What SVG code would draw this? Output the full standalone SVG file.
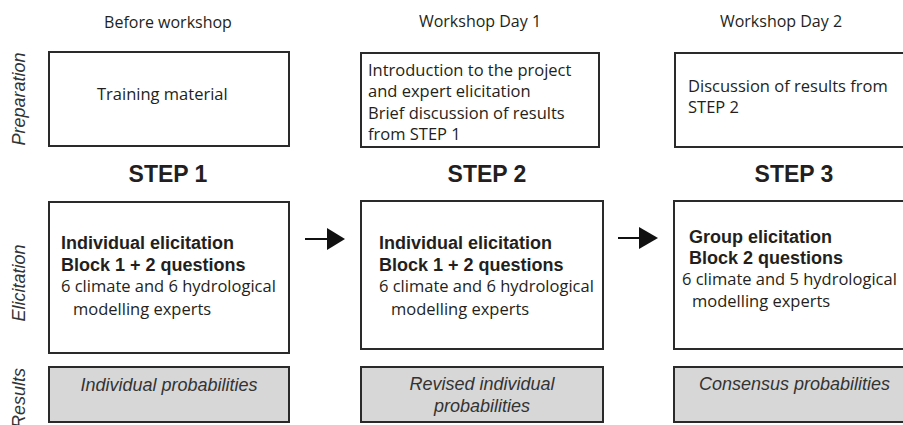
<svg xmlns="http://www.w3.org/2000/svg" width="903" height="425" viewBox="0 0 903 425">
<style>
.box{fill:#fff;stroke:#2a2a2a;stroke-width:2}
.res{fill:#d7d7d7;stroke:#2a2a2a;stroke-width:2}
.reg{font-family:"Open Sans","Noto Sans",sans-serif;font-size:16.5px;fill:#231f20}
.hdr{font-family:"Open Sans","Noto Sans",sans-serif;font-size:16px;fill:#231f20}
.step{font-family:"Liberation Sans",Arial,sans-serif;font-size:23px;font-weight:bold;fill:#231f20;text-anchor:middle}
.bold{font-family:"Liberation Sans",Arial,sans-serif;font-size:18px;font-weight:bold;fill:#231f20}
.it{font-family:"Liberation Sans",Arial,sans-serif;font-size:18px;font-style:italic;fill:#333}
.side{font-family:"Liberation Sans",Arial,sans-serif;font-size:18px;font-style:italic;fill:#333;text-anchor:middle}
.conn{stroke:#111;stroke-width:2;fill:none}
</style>
<g id="headers">
<text class="hdr" x="168" y="28" text-anchor="middle">Before workshop</text>
<text class="hdr" x="480" y="27" text-anchor="middle">Workshop Day 1</text>
<text class="hdr" x="781" y="27" text-anchor="middle">Workshop Day 2</text>
</g>
<g id="row-labels">
<text class="side" transform="translate(25,99) rotate(-90)">Preparation</text>
<text class="side" transform="translate(25,283) rotate(-90)">Elicitation</text>
<text class="side" transform="translate(25,368) rotate(-90)" text-anchor="end" style="text-anchor:end">Results</text>
</g>
<g id="prep1">
<rect class="box" x="49" y="52" width="240" height="94"/>
<text class="reg" x="97" y="100">Training material</text>
</g>
<g id="prep2">
<rect class="box" x="361" y="53" width="238" height="94"/>
<text class="reg" x="368" y="76">Introduction to the project</text>
<text class="reg" x="368" y="97">and expert elicitation</text>
<text class="reg" x="368" y="119">Brief discussion of results</text>
<text class="reg" x="368" y="140">from STEP 1</text>
</g>
<g id="prep3">
<rect class="box" x="675" y="53" width="240" height="94"/>
<text class="reg" x="688" y="92">Discussion of results from</text>
<text class="reg" x="688" y="113">STEP 2</text>
</g>
<g id="steps">
<text class="step" x="168" y="182">STEP 1</text>
<text class="step" x="487" y="182">STEP 2</text>
<text class="step" x="794" y="182">STEP 3</text>
</g>
<g id="elic1">
<rect class="box" x="49" y="202" width="240" height="151"/>
<text class="bold" x="61" y="249">Individual elicitation</text>
<text class="bold" x="61" y="271">Block 1 + 2 questions</text>
<text class="reg" x="61" y="292">6 climate and 6 hydrological</text>
<text class="reg" x="73" y="315">modelling experts</text>
</g>
<g id="elic2">
<rect class="box" x="361" y="201" width="242" height="148"/>
<text class="bold" x="379" y="249">Individual elicitation</text>
<text class="bold" x="379" y="271">Block 1 + 2 questions</text>
<text class="reg" x="379" y="292">6 climate and 6 hydrological</text>
<text class="reg" x="391" y="315">modelling experts</text>
</g>
<g id="elic3">
<rect class="box" x="674" y="201" width="242" height="148"/>
<text class="bold" x="689" y="243">Group elicitation</text>
<text class="bold" x="689" y="264">Block 2 questions</text>
<text class="reg" x="682" y="285">6 climate and 5 hydrological</text>
<text class="reg" x="692" y="307">modelling experts</text>
</g>
<g id="res1">
<rect class="res" x="49" y="367" width="240" height="55"/>
<text class="it" x="169" y="391" text-anchor="middle">Individual probabilities</text>
</g>
<g id="res2">
<rect class="res" x="361" y="367" width="242" height="55"/>
<text class="it" x="482" y="390" text-anchor="middle">Revised individual</text>
<text class="it" x="482" y="412" text-anchor="middle">probabilities</text>
</g>
<g id="res3">
<rect class="res" x="674" y="367" width="242" height="55"/>
<text class="it" x="794.5" y="390" text-anchor="middle">Consensus probabilities</text>
</g>
<g id="connectors">
<line class="conn" x1="305" y1="239" x2="329" y2="239"/>
<polygon points="327,228 345,239 327,250" fill="#111"/>
<line class="conn" x1="618" y1="238" x2="641" y2="238"/>
<polygon points="639,227 658,238 639,249" fill="#111"/>
</g>
</svg>
